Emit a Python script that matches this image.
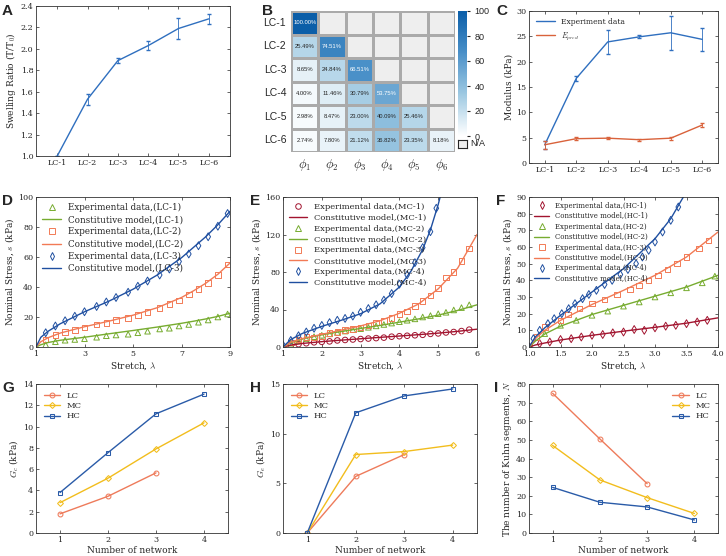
import numpy as np, pandas as pd, seaborn as sns, matplotlib
matplotlib.use("Agg")
import matplotlib.pyplot as plt
from matplotlib.colors import LinearSegmentedColormap
from matplotlib.patches import Rectangle
from matplotlib.lines import Line2D

sns.set_style("ticks")
plt.rcParams['font.family'] = ['DejaVu Serif']
plt.rcParams['mathtext.fontset'] = 'cm'
plt.rcParams['font.size'] = 6.5
plt.rcParams['axes.labelpad'] = 1.5

# ---- data ----
samples = ["LC-1", "LC-2", "LC-3", "LC-4", "LC-5", "LC-6"]
swell = [1.0, 1.53, 1.89, 2.03, 2.19, 2.28]
swell_err = [0.0, 0.05, 0.02, 0.04, 0.10, 0.05]
phi_labels = ["$\\phi_1$", "$\\phi_2$", "$\\phi_3$", "$\\phi_4$", "$\\phi_5$", "$\\phi_6$"]
frac = [[100.00, None, None, None, None, None],
        [25.49, 74.51, None, None, None, None],
        [8.65, 24.84, 66.51, None, None, None],
        [4.00, 11.46, 30.79, 53.75, None, None],
        [2.98, 8.47, 23.00, 40.09, 25.46, None],
        [2.74, 7.80, 21.12, 36.82, 23.35, 8.18]]
mod_exp = [3.6, 16.7, 23.9, 24.9, 25.7, 24.4]
mod_exp_err = [0.8, 0.5, 2.3, 0.3, 3.4, 2.3]
mod_pred = [3.6, 4.8, 4.9, 4.6, 4.9, 7.5]
mod_pred_err = [0.8, 0.3, 0.2, 0.2, 0.3, 0.3]

D_x = [1.4, 1.8, 2.2, 2.6, 3.0, 3.5, 3.9, 4.3, 4.8, 5.2, 5.6, 6.1, 6.5, 6.9, 7.3, 7.7, 8.1, 8.5, 8.9]
D_lc1 = [1.5, 3.5, 4.5, 5, 5.5, 6.5, 7.5, 8, 8.5, 9.5, 10.5, 12, 12.5, 14, 15, 16.5, 18, 20, 22]
D_lc2 = [5, 8, 10, 11.5, 13, 15, 16, 18, 19.5, 21.5, 23.5, 26, 28.5, 31, 35, 38.5, 42.5, 48, 55]
D_lc3 = [9.5, 14, 17.5, 20.5, 23.5, 27, 30, 33, 36.5, 40.5, 44, 48, 52, 57, 62, 67.5, 73.5, 80.5, 89]
D_mx = [1.0, 1.2, 1.5, 2.0, 3.0, 4.0, 5.0, 6.0, 7.0, 7.5, 8.0, 8.5, 9.0]
D_m1 = [0, 1.5, 3.0, 4.5, 6.5, 8.8, 11, 13.3, 15.8, 17.2, 18.7, 20.4, 22.5]
D_m2 = [0, 3.5, 6.2, 9.3, 13.5, 17.2, 21.2, 26.2, 33, 37.5, 42.5, 48.5, 56]
D_m3 = [0, 6.5, 10.5, 15.5, 23.5, 30.5, 38.5, 48, 59.5, 66.5, 73.5, 81.5, 90.5]

E_x = [1.2, 1.4, 1.6, 1.8, 2.0, 2.2, 2.4, 2.6, 2.8, 3.0, 3.2, 3.4, 3.6, 3.8, 4.0, 4.2, 4.4, 4.6, 4.8, 5.0, 5.2, 5.4, 5.6, 5.8]
E_mc1 = [1.5, 3, 4, 5, 5.5, 6, 7, 7.5, 8, 8.5, 9, 9.5, 10, 11, 11.5, 12, 12.5, 13, 14, 14.5, 15.5, 16, 17, 18.5]
E_mc2 = [4, 6.5, 9, 11, 12.5, 14, 15.5, 17, 18.5, 19.5, 21, 22.5, 24, 25.5, 27, 28.5, 30, 32, 33.5, 35.5, 37, 39.5, 42, 45]
E_mc3 = [5, 8, 10.5, 10, 12, 15, 16, 18, 19, 21, 23, 26, 28, 31, 35, 38, 44, 49, 55, 63, 74, 80, 92, 105]
E_x4 = [1.0, 1.2, 1.4, 1.6, 1.8, 2.0, 2.2, 2.4, 2.6, 2.8, 3.0, 3.2, 3.4, 3.6, 3.8, 4.0, 4.2, 4.4, 4.6, 4.8, 4.95]
E_mc4 = [2, 7, 12, 16, 20, 23, 26, 28.5, 30.5, 33, 37, 41, 45, 50, 57, 67, 77, 90, 106, 123, 148]
E_mx = [1.0, 1.2, 1.5, 2.0, 2.5, 3.0, 3.5, 4.0, 4.5, 5.0, 5.5, 6.0]
E_m1 = [0, 2, 3.8, 5.7, 7.3, 8.8, 10.3, 11.7, 13.2, 14.8, 16.7, 19]
E_m2 = [0, 4.5, 8.5, 13, 16.5, 19.8, 23, 26.5, 30, 34, 39, 45]
E_m3 = [0, 5, 9, 13.5, 18, 22.5, 28, 36, 46, 62, 84, 120]
E_m4x = [1.0, 1.2, 1.5, 2.0, 2.5, 3.0, 3.5, 4.0, 4.3, 4.6, 4.8, 5.0, 5.05]
E_m4 = [0, 8, 14.5, 22, 28.5, 35.5, 46, 64, 81, 104, 125, 152, 160]

F_x1 = [1.0, 1.17, 1.33, 1.5, 1.67, 1.83, 2.0, 2.17, 2.33, 2.5, 2.67, 2.83, 3.0, 3.17, 3.33, 3.5, 3.67, 3.83]
F_hc1 = [0, 2, 3, 4.5, 5, 6, 7, 7.5, 8.5, 9, 10.5, 10, 11.5, 12.5, 13, 14, 15, 16]
F_x2 = [1.25, 1.5, 1.75, 2.0, 2.25, 2.5, 2.75, 3.0, 3.25, 3.5, 3.75, 3.95]
F_hc2 = [8, 13, 16, 19, 21.5, 24.5, 27, 30, 32.5, 35.5, 38.5, 42.5]
F_x3 = [1.0, 1.12, 1.25, 1.5, 1.62, 1.8, 2.0, 2.2, 2.4, 2.6, 2.75, 2.9, 3.05, 3.2, 3.35, 3.5, 3.7, 3.85]
F_hc3 = [0, 6, 12, 16, 19.5, 23, 26, 28.5, 31.5, 34.5, 37, 40, 43, 46.5, 50, 54, 59, 64]
F_x4 = [1.0, 1.07, 1.17, 1.3, 1.4, 1.52, 1.63, 1.73, 1.85, 1.95, 2.07, 2.2, 2.32, 2.45, 2.57, 2.7, 2.8, 2.9, 3.0, 3.12, 3.25, 3.37]
F_hc4 = [0, 5, 10, 14, 17, 20, 23, 26, 29, 31.5, 34, 37.5, 40, 43.5, 46.5, 50, 54, 58, 63, 69, 76, 84]
F_mx = [1.0, 1.1, 1.25, 1.5, 2.0, 2.5, 3.0, 3.5, 4.0]
F_m1 = [0, 1.2, 2.4, 4.2, 7.0, 9.5, 11.8, 14.3, 17.5]
F_m2 = [0, 3.5, 7.8, 12.5, 19.5, 25, 30.5, 36, 43]
F_m3 = [0, 5, 10, 16, 25.5, 34, 43, 54, 69]
F_m4x = [1.0, 1.1, 1.25, 1.5, 2.0, 2.5, 3.0, 3.25, 3.45]
F_m4 = [0, 6, 11.5, 19, 33, 47, 65, 77, 90]

networks = [1, 2, 3, 4]
Gc_LC = [1.8, 3.45, 5.65]; Gc_MC = [2.85, 5.15, 7.9, 10.35]; Gc_HC = [3.8, 7.55, 11.2, 13.05]
Ge_LC = [0, 5.7, 7.9]; Ge_MC = [0, 7.9, 8.2, 8.85]; Ge_HC = [0, 12.1, 13.8, 14.5]
N_LC = [75, 50.5, 26.5]; N_MC = [47, 28.5, 19, 10.5]; N_HC = [24.5, 16.5, 14, 7]

BLUE = "#2f6fbf"; ORANGE = "#d9623b"
GREEN = "#77ac30"; RED = "#a2142f"; LORANGE = "#f27a55"; DBLUE = "#1f4fa0"
C_LC = "#ee7b5b"; C_MC = "#f2bd1d"; C_HC = "#2a5ba8"

W, H = 726, 556
fig = plt.figure(figsize=(7.26, 5.56), dpi=100)
def ax_at(x0, y0, x1, y1):
    return fig.add_axes([x0 / W, 1 - y1 / H, (x1 - x0) / W, (y1 - y0) / H])
def box(ax):
    for s in ax.spines.values():
        s.set_visible(True); s.set_linewidth(0.6); s.set_color("#333333")
    ax.tick_params(direction="in", length=2, width=0.5, labelsize=5.8, top=True, right=True, pad=2)
def letter(x, y, t):
    fig.text(x / W, 1 - y / H, t, fontsize=11, fontweight="bold", family="Liberation Sans", va="top")

# A
ax = ax_at(36, 6, 230, 156)
sns.lineplot(x=samples, y=swell, ax=ax, color=BLUE, lw=1)
ax.errorbar(samples, swell, yerr=swell_err, fmt="none", ecolor=BLUE, capsize=1.5, lw=0.6)
ax.set_ylim(1, 2.4); ax.set_xlim(-0.7, 5.7)
ax.set_ylabel("Swelling Ratio (T/T$_0$)", fontsize=6.5); box(ax)
letter(2, 4, "A")

# B
ax = ax_at(291, 11, 455, 152)
arr = np.array([[np.nan if v is None else v for v in r] for r in frac])
ax.add_patch(Rectangle((0, 0), 6, 6, color="#eeeeee", zorder=0))
cmap = LinearSegmentedColormap.from_list("b", ["#ffffff", "#9ec9e2", "#4a90c8", "#0b5ea8"])
annot = np.array([["" if v is None else f"{v:.2f}%" for v in r] for r in frac])
sns.heatmap(arr, ax=ax, cmap=cmap, vmin=0, vmax=100, annot=annot, fmt="", linewidths=0.8,
            linecolor="#aaaaaa", cbar_ax=ax_at(458, 11, 467, 136),
            annot_kws={"fontsize": 4.2, "family": "Liberation Sans"})
for i in range(7):
    ax.axhline(i, color="#aaaaaa", lw=0.8); ax.axvline(i, color="#aaaaaa", lw=0.8)
ax.set_xticklabels(phi_labels, fontsize=9, rotation=0)
ax.set_yticklabels(samples, fontsize=7.5, rotation=0, family="Liberation Sans")
ax.tick_params(length=0)
cb = fig.axes[-1]; cb.tick_params(labelsize=6.5, length=2)
for t in cb.get_yticklabels(): t.set_family("Liberation Sans")
nax = ax_at(458, 140, 467, 148); nax.set_xticks([]); nax.set_yticks([])
nax.set_facecolor("#eeeeee")
fig.text(470 / W, 1 - 144 / H, "N/A", fontsize=6.5, va="center", family="Liberation Sans")
letter(262, 4, "B")

# C
ax = ax_at(529, 11, 718, 163)
sns.lineplot(x=samples, y=mod_exp, ax=ax, color=BLUE, lw=1, label="Experiment data")
sns.lineplot(x=samples, y=mod_pred, ax=ax, color=ORANGE, lw=1, label="$E_{pred}$")
ax.errorbar(samples, mod_exp, yerr=mod_exp_err, fmt="none", ecolor=BLUE, capsize=1.5, lw=0.6)
ax.errorbar(samples, mod_pred, yerr=mod_pred_err, fmt="none", ecolor=ORANGE, capsize=1.5, lw=0.6)
ax.set_ylim(0, 30); ax.set_xlim(-0.5, 5.5)
ax.set_ylabel("Modulus (kPa)", fontsize=6.5); box(ax)
ax.legend(loc="upper left", frameon=False, fontsize=5.5, handlelength=2.5)
letter(496, 4, "C")

def stress(ax, pts, models, xlim, ylim, xt, yt, lfs):
    handles = []
    for (xs, ys, c, m, lab) in pts:
        sns.scatterplot(x=xs, y=ys, ax=ax, marker=m, color=c, facecolor="none", edgecolor=c, linewidth=0.7, s=16)
    for (xs, ys, c, lab) in models:
        sns.lineplot(x=xs, y=ys, ax=ax, color=c, lw=1)
    labels = []
    for (p, mdl) in zip(pts, models):
        handles.append(Line2D([], [], ls="none", marker=p[3], mfc="none", mec=p[2], mew=0.7, ms=4)); labels.append(p[4])
        handles.append(Line2D([], [], color=mdl[2], lw=1)); labels.append(mdl[3])
    ax.legend(handles, labels, loc="upper left", frameon=False, fontsize=lfs,
              handlelength=2.2, labelspacing=0.35, borderaxespad=0.3)
    ax.set_xlim(*xlim); ax.set_ylim(*ylim); ax.set_xticks(xt); ax.set_yticks(yt)
    ax.set_xlabel("Stretch, $\\lambda$", fontsize=6.5); ax.set_ylabel("Nominal Stress, $s$ (kPa)", fontsize=6.5)
    box(ax)

ax = ax_at(36, 197, 230, 347)
stress(ax, [(D_x, D_lc1, GREEN, "^", "Experimental data,(LC-1)"), (D_x, D_lc2, LORANGE, "s", "Experimental data,(LC-2)"),
            (D_x, D_lc3, DBLUE, "d", "Experimental data,(LC-3)")],
       [(D_mx, D_m1, GREEN, "Constitutive model,(LC-1)"), (D_mx, D_m2, LORANGE, "Constitutive model,(LC-2)"),
        (D_mx, D_m3, DBLUE, "Constitutive model,(LC-3)")], (1, 9), (0, 100), [1, 3, 5, 7, 9], range(0, 101, 20), 6.3)
letter(2, 194, "D")

ax = ax_at(283, 197, 477, 347)
stress(ax, [(E_x, E_mc1, RED, "o", "Experimental data,(MC-1)"), (E_x, E_mc2, GREEN, "^", "Experimental data,(MC-2)"),
            (E_x, E_mc3, LORANGE, "s", "Experimental data,(MC-3)"), (E_x4, E_mc4, DBLUE, "d", "Experimental data,(MC-4)")],
       [(E_mx, E_m1, RED, "Constitutive model,(MC-1)"), (E_mx, E_m2, GREEN, "Constitutive model,(MC-2)"),
        (E_mx, E_m3, LORANGE, "Constitutive model,(MC-3)"), (E_m4x, E_m4, DBLUE, "Constitutive model,(MC-4)")],
       (1, 6), (0, 160), [1, 2, 3, 4, 5, 6], range(0, 161, 40), 6)
letter(250, 194, "E")

ax = ax_at(529, 197, 718, 347)
stress(ax, [(F_x1, F_hc1, RED, "d", "Experimental data,(HC-1)"), (F_x2, F_hc2, GREEN, "^", "Experimental data,(HC-2)"),
            (F_x3, F_hc3, LORANGE, "s", "Experimental data,(HC-3)"), (F_x4, F_hc4, DBLUE, "d", "Experimental data,(HC-4)")],
       [(F_mx, F_m1, RED, "Constitutive model,(HC-1)"), (F_mx, F_m2, GREEN, "Constitutive model,(HC-2)"),
        (F_mx, F_m3, LORANGE, "Constitutive model,(HC-3)"), (F_m4x, F_m4, DBLUE, "Constitutive model,(HC-4)")],
       (1, 4), (0, 90), [1, 1.5, 2, 2.5, 3, 3.5, 4], range(0, 91, 10), 5)
letter(496, 194, "F")

def netplot(ax, lc, mc, hc, ylim, yt, ylab, loc):
    sns.lineplot(x=networks[:len(lc)], y=lc, ax=ax, color=C_LC, marker="o", mfc="none", mec=C_LC, ms=3.5, lw=1, label="LC")
    sns.lineplot(x=networks, y=mc, ax=ax, color=C_MC, marker="D", mfc="none", mec=C_MC, ms=3, lw=1, label="MC")
    sns.lineplot(x=networks, y=hc, ax=ax, color=C_HC, marker="s", mfc="none", mec=C_HC, ms=3, lw=1, label="HC")
    ax.set_xlim(0.5, 4.5); ax.set_ylim(*ylim); ax.set_xticks(networks); ax.set_yticks(yt)
    ax.set_xlabel("Number of network", fontsize=6.5); ax.set_ylabel(ylab, fontsize=6.5)
    ax.legend(loc=loc, frameon=False, fontsize=6, handlelength=2, labelspacing=0.3); box(ax)

ax = ax_at(36, 384, 228, 533)
netplot(ax, Gc_LC, Gc_MC, Gc_HC, (0, 14), range(0, 15, 2), "$G_c$ (kPa)", "upper left")
letter(2, 381, "G")
ax = ax_at(283, 384, 477, 533)
netplot(ax, Ge_LC, Ge_MC, Ge_HC, (0, 15), range(0, 16, 5), "$G_e$ (kPa)", "upper left")
letter(250, 381, "H")
ax = ax_at(529, 384, 718, 533)
netplot(ax, N_LC, N_MC, N_HC, (0, 80), range(0, 81, 10), "The number of Kuhn segments, $N$", "upper right")
letter(494, 381, "I")

fig.savefig("out.png", dpi=100)
